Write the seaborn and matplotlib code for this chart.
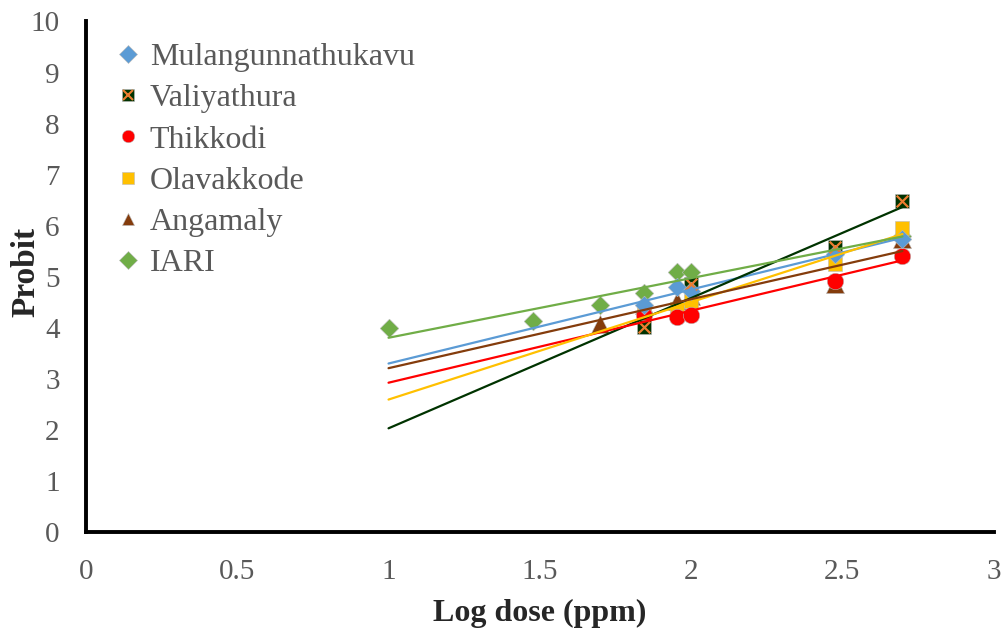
import numpy as np
import pandas as pd
import seaborn as sns
import matplotlib.pyplot as plt
from matplotlib.lines import Line2D
from matplotlib.legend_handler import HandlerTuple

# ---------- data ----------
sites = ['Mulangunnathukavu', 'Valiyathura', 'Thikkodi', 'Olavakkode', 'Angamaly', 'IARI']

mul_x = [1.845, 1.954, 2.0, 2.477, 2.699]
mul_y = [4.45, 4.80, 4.72, 5.45, 5.75]

val_x = [1.845, 2.0, 2.477, 2.699]
val_y = [4.02, 4.86, 5.58, 6.48]

thi_x = [1.845, 1.954, 2.0, 2.477, 2.699]
thi_y = [4.25, 4.22, 4.26, 4.92, 5.41]

ola_x = [1.845, 1.954, 2.0, 2.477, 2.699]
ola_y = [4.27, 4.37, 4.53, 5.25, 5.96]

ang_x = [1.699, 1.845, 1.954, 2.0, 2.477, 2.699]
ang_y = [4.08, 4.45, 4.53, 4.63, 4.85, 5.74]

iari_x = [1.0, 1.477, 1.699, 1.845, 1.954, 2.0, 2.699]
iari_y = [3.99, 4.14, 4.45, 4.69, 5.10, 5.10, 5.80]

colors = {'Mulangunnathukavu': '#5B9BD5', 'Valiyathura': '#003300', 'Thikkodi': '#FF0000',
          'Olavakkode': '#FFC000', 'Angamaly': '#843C0C', 'IARI': '#70AD47'}
markers = {'Mulangunnathukavu': 'D', 'Valiyathura': 's', 'Thikkodi': 'o',
           'Olavakkode': 's', 'Angamaly': '^', 'IARI': 'D'}
msize = {'D': 90, 's': 115, 'o': 140, '^': 170}

xs = [mul_x, val_x, thi_x, ola_x, ang_x, iari_x]
ys = [mul_y, val_y, thi_y, ola_y, ang_y, iari_y]

frames = []
for s, x, y in zip(sites, xs, ys):
    frames.append(pd.DataFrame({'Site': s, 'LogDose': x, 'Probit': y}))
df = pd.concat(frames, ignore_index=True)

# ---------- plot ----------
sns.set_style('white')
plt.rcParams['font.family'] = ['Liberation Serif', 'DejaVu Serif']

fig = plt.figure(figsize=(10.05, 6.32), dpi=100)
ax = fig.add_axes([0.0856, 0.158, 0.903, 0.808])

# IARI first so the others sit on top
for s in sites[::-1]:
    sub = df[df.Site == s]
    sns.scatterplot(data=sub, x='LogDose', y='Probit', marker=markers[s],
                    s=msize[markers[s]], color=colors[s], linewidth=0.4,
                    edgecolor='#bbbbbb', legend=False, ax=ax, zorder=2)
    if s == 'Valiyathura':
        # orange cross inside the squares
        sns.scatterplot(data=sub, x='LogDose', y='Probit', marker='x', s=70,
                        color='#ED7D31', linewidth=1.6, legend=False, ax=ax, zorder=3)

# linear trendlines, extended back to log dose 1
for s, x, y in zip(sites, xs, ys):
    b, a = np.polyfit(x, y, 1)
    tx = np.array([1.0, max(x)])
    ax.plot(tx, a + b * tx, color=colors[s], lw=1.6, zorder=4)

ax.set_xlim(0, 3)
ax.set_ylim(0, 10)
ax.set_xticks([0, 0.5, 1, 1.5, 2, 2.5, 3])
ax.set_xticklabels(['0', '0.5', '1', '1.5', '2', '2.5', '3'])
ax.set_yticks(range(0, 11))
ax.tick_params(axis='both', length=0, labelsize=21, labelcolor='#595959', pad=19)
ax.set_xlabel('Log dose (ppm)', fontsize=23, fontweight='bold', labelpad=10)
ax.set_ylabel('Probit', fontsize=24, fontweight='bold')
ax.yaxis.set_label_coords(-0.049, 0.51)

for side in ['top', 'right']:
    ax.spines[side].set_visible(False)
for side in ['left', 'bottom']:
    ax.spines[side].set_color('black')
    ax.spines[side].set_linewidth(2.8)

handles = []
for s in sites:
    h = Line2D([], [], ls='', marker=markers[s], color=colors[s], markersize=9,
               markeredgecolor='#bbbbbb', markeredgewidth=0.4)
    if s == 'Valiyathura':
        hx = Line2D([], [], ls='', marker='x', color='#ED7D31', markersize=7, markeredgewidth=1.5)
        h = (h, hx)
    handles.append(h)

ax.legend(handles, sites, loc='upper left', bbox_to_anchor=(0.0, 1.008), frameon=False,
          fontsize=23, labelcolor='#595959', handletextpad=0.2, handlelength=1.0,
          labelspacing=0.37, borderaxespad=0.4,
          handler_map={tuple: HandlerTuple(ndivide=1, pad=0)})

fig.savefig('out.png', dpi=100)
